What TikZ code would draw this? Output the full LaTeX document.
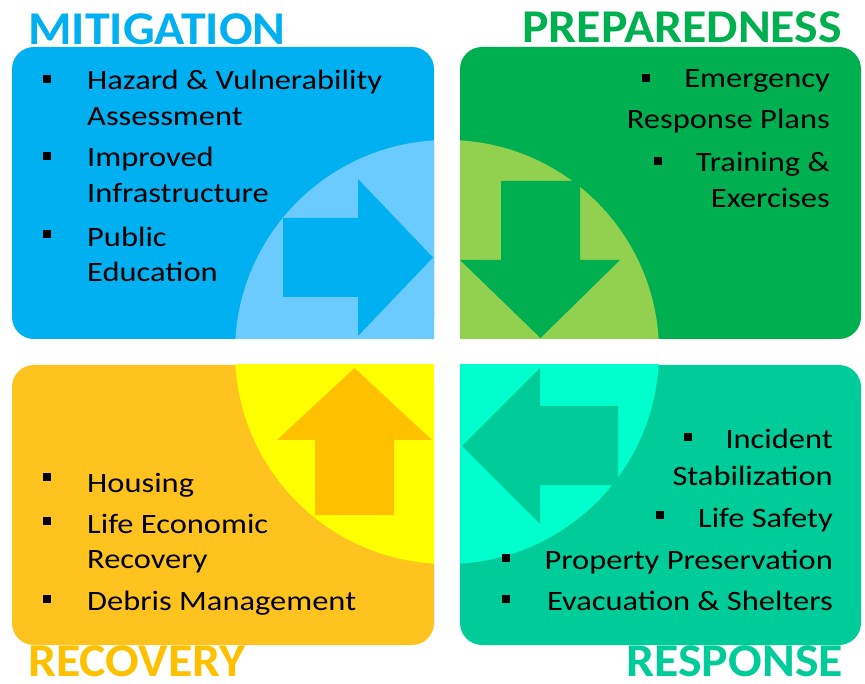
\documentclass[tikz,border=0pt]{standalone}
\usepackage{fontspec}
\setmainfont{Carlito}
\newfontfamily\bodyfont[FakeStretch=1.16]{Carlito}
\newfontfamily\headfont[FakeStretch=1.06]{Carlito}
\definecolor{mblue}{HTML}{00B0F0}
\definecolor{mlight}{HTML}{6BCBFF}
\definecolor{pgreen}{HTML}{00B050}
\definecolor{plight}{HTML}{92D050}
\definecolor{rgold}{HTML}{FFC31F}
\definecolor{rarrow}{HTML}{FFC000}
\definecolor{rlight}{HTML}{FFFF00}
\definecolor{saqua}{HTML}{00CC99}
\definecolor{slight}{HTML}{00FFCC}
\begin{document}
\begin{tikzpicture}[x=1pt,y=-1pt,
  title/.style={inner sep=0pt,font=\headfont\fontsize{47}{56}\selectfont\bfseries},
  item/.style={inner sep=0pt,font=\bodyfont\fontsize{28}{34}\selectfont},
  bul/.style={fill=black,inner sep=0pt,minimum size=8pt},
  quad/.style={rounded corners=22pt}]
\useasboundingbox (0,0) rectangle (865,684);
% ---------- Mitigation (top left)
\fill[mblue,quad] (12,47) rectangle (434,339);
\fill[mblue] (380,290) rectangle (434,339);
\begin{scope}\clip (12,47) rectangle (434,339);
\fill[mlight] (447,352) circle[radius=212pt];\end{scope}
\fill[mblue] (283,218) -- (358,218) -- (358,179) -- (433,257.5) -- (358,336) -- (358,297) -- (283,297) -- cycle;
% ---------- Preparedness (top right)
\fill[pgreen,quad] (460,47) rectangle (861,339);
\fill[pgreen] (460,290) rectangle (520,339);
\begin{scope}\clip (460,47) rectangle (861,339);
\fill[plight] (447,352) circle[radius=212pt];\end{scope}
\fill[pgreen] (501,181) -- (580,181) -- (580,260) -- (620,260) -- (540.5,338) -- (460,260) -- (501,260) -- cycle;
% ---------- Recovery (bottom left)
\fill[rgold,quad] (12,365) rectangle (434,645);
\fill[rgold] (380,365) rectangle (434,420);
\begin{scope}\clip (12,365) rectangle (434,645);
\fill[rlight] (447,352) circle[radius=212pt];\end{scope}
\fill[rarrow] (354.5,368) -- (432,440) -- (394,440) -- (394,515) -- (315,515) -- (315,440) -- (277,440) -- cycle;
% ---------- Response (bottom right)
\fill[saqua,quad] (460,365) rectangle (861,645);
\fill[saqua] (460,365) rectangle (520,420);
\begin{scope}\clip (460,365) rectangle (861,645);
\fill[slight] (447,352) circle[radius=212pt];\end{scope}
\fill[saqua] (462,446) -- (540,368) -- (540,406) -- (618,406) -- (618,485) -- (540,485) -- (540,524) -- cycle;
% ---------- Titles
\node[title,text=mblue,anchor=base west] (tmit) at (28,45) {MITIGATION};
\node[title,text=pgreen,anchor=base east] (tpre) at (842,43) {PREPAREDNESS};
\node[title,text=rarrow,anchor=base west] (trec) at (28,676) {RECOVERY};
\node[title,text=saqua,anchor=base east] (tres) at (843,676) {RESPONSE};
% ---------- Mitigation items
\node[bul] (mb1) at (47,79) {};
\node[bul] (mb2) at (47,156) {};
\node[bul] (mb3) at (47,234) {};
\node[item,anchor=base west] (m1) at (87,90) {Hazard \& Vulnerability};
\node[item,anchor=base west] (m2) at (87,126) {Assessment};
\node[item,anchor=base west] (m3) at (87,167) {Improved};
\node[item,anchor=base west] (m4) at (87,203) {Infrastructure};
\node[item,anchor=base west] (m5) at (87,247) {Public};
\node[item,anchor=base west] (m6) at (87,282) {Education};
% ---------- Preparedness items
\node[bul] (pb1) at (646,78) {};
\node[bul] (pb2) at (657.5,161) {};
\node[item,anchor=base east] (p1) at (830,88) {Emergency};
\node[item,anchor=base east] (p2) at (830,129) {Response Plans};
\node[item,anchor=base east] (p3) at (830,172) {Training \&};
\node[item,anchor=base east] (p4) at (830,208) {Exercises};
% ---------- Recovery items
\node[bul] (rb1) at (47,477) {};
\node[bul] (rb2) at (47,521) {};
\node[bul] (rb3) at (47,599) {};
\node[item,anchor=base west] (r1) at (87,492) {Housing};
\node[item,anchor=base west] (r2) at (87,533) {Life Economic};
\node[item,anchor=base west] (r3) at (87,568) {Recovery};
\node[item,anchor=base west] (r4) at (87,610) {Debris Management};
% ---------- Response items
\node[bul] (sb1) at (688,437) {};
\node[bul] (sb2) at (660,515) {};
\node[bul] (sb3) at (506,558) {};
\node[bul] (sb4) at (506,599) {};
\node[item,anchor=base east] (s1) at (833,449) {Incident};
\node[item,anchor=base east] (s2) at (833,485) {Stabilization};
\node[item,anchor=base east] (s3) at (833,527) {Life Safety};
\node[item,anchor=base east] (s4) at (833,569) {Property Preservation};
\node[item,anchor=base east] (s5) at (833,610) {Evacuation \& Shelters};
\end{tikzpicture}
\end{document}
